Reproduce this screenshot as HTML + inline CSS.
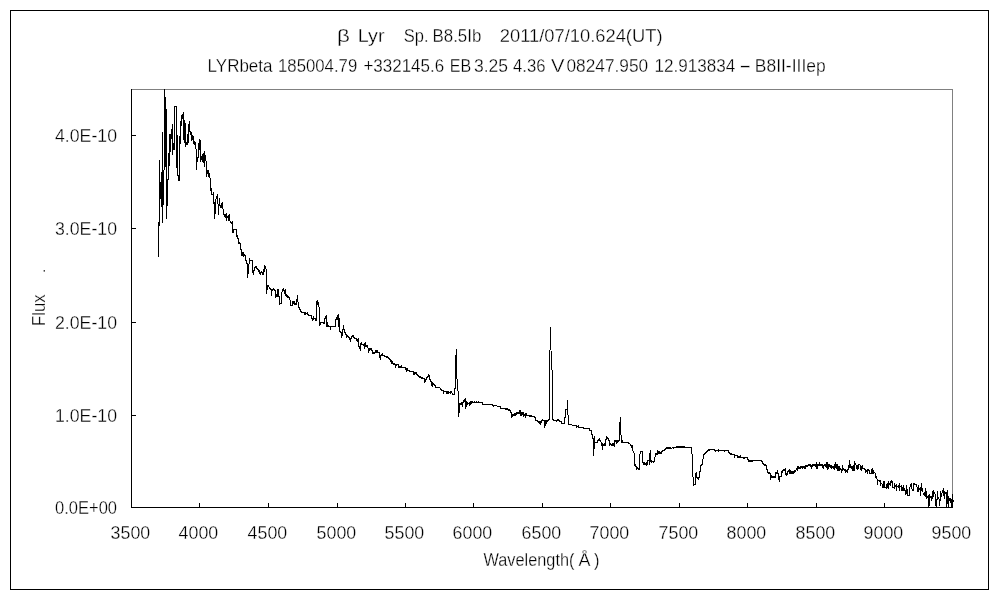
<!DOCTYPE html>
<html lang="en"><head><meta charset="utf-8"><title>β Lyr spectrum</title>
<style>html,body{margin:0;padding:0;background:#fff;}body{width:1000px;height:600px;overflow:hidden;}svg{display:block;will-change:transform;}text{font-family:'Liberation Sans','IPAGothic',sans-serif;font-size:18px;fill:#000;stroke:#fff;stroke-width:0.3px;paint-order:fill stroke;}</style></head><body>
<svg width="1000" height="600" viewBox="0 0 1000 600">
<rect width="1000" height="600" fill="#fff"/>
<rect x="10.5" y="10.5" width="978" height="579" fill="none" stroke="#000" stroke-width="1" shape-rendering="crispEdges"/>
<path d="M131 89.5H953M952.5 89V507" fill="none" stroke="#808080" stroke-width="1" shape-rendering="crispEdges"/>
<path d="M131.5 89V508M131 507.5H953M131.5 503V508M199.5 503V508M268.5 503V508M337.5 503V508M405.5 503V508M473.5 503V508M542.5 503V508M610.5 503V508M679.5 503V508M747.5 503V508M816.5 503V508M884.5 503V508M952.5 503V508M131 135.5H136M131 228.5H136M131 322.5H136M131 415.5H136" fill="none" stroke="#000" stroke-width="1" shape-rendering="crispEdges"/>
<path d="M158.5 222V257M159.5 160V226M160.5 182V199M161.5 172V207M162.5 132V223M163.5 170V205M164.5 89V170M165.5 97V167M166.5 109V219M167.5 179V206M168.5 153V180M169.5 134V166M170.5 134V152M171.5 129V139M172.5 124V155M173.5 143V150M174.5 106V150M175.5 106V107M176.5 106V168M177.5 135V176M178.5 175V181M179.5 136V181M180.5 121V144M181.5 115V126M182.5 114V119M183.5 112V140M184.5 120V143M185.5 123V147M186.5 142V145M187.5 134V145M188.5 124V143M189.5 121V132M190.5 131V135M191.5 132V141M192.5 135V140M193.5 136V144M194.5 141V145M195.5 142V149M196.5 149V170M197.5 157V162M198.5 143V158M199.5 139V150M200.5 140V162M201.5 156V160M202.5 154V162M203.5 153V163M204.5 151V167M205.5 155V161M206.5 161V177M207.5 170V174M208.5 170V177M209.5 173V178M210.5 178V191M211.5 188V195M212.5 194V195M213.5 192V204M214.5 202V219M215.5 199V214M216.5 196V199M217.5 194V204M218.5 204V215M219.5 198V206M220.5 205V208M221.5 203V208M222.5 202V209M223.5 209V215M224.5 214V217M225.5 214V218M226.5 213V221M227.5 216V218M228.5 215V221M229.5 214V221M230.5 221V223M231.5 222V224M232.5 221V233M233.5 229V233M234.5 229V230M235.5 229V230M236.5 229V237M237.5 235V239M238.5 238V244M239.5 242V244M240.5 243V250M241.5 249V256M242.5 252V256M243.5 252V257M244.5 254V256M245.5 255V261M246.5 260V264M247.5 263V278M248.5 264V274M249.5 258V264M250.5 260V261M251.5 260V261M252.5 260V273M253.5 270V275M254.5 267V271M255.5 266V268M256.5 266V269M257.5 268V270M258.5 269V272M259.5 270V274M260.5 272V275M261.5 271V273M262.5 272V275M263.5 269V275M264.5 265V272M265.5 266V269M266.5 269V294M267.5 285V290M268.5 285V287M269.5 287V289M270.5 288V290M271.5 289V296M272.5 289V291M273.5 288V290M274.5 289V291M275.5 290V298M276.5 294V297M277.5 289V297M278.5 289V297M279.5 296V305M280.5 303V304M281.5 292V304M282.5 289V292M283.5 288V291M284.5 290V294M285.5 289V296M286.5 294V297M287.5 295V298M288.5 296V298M289.5 297V300M290.5 300V306M291.5 305V306M292.5 301V306M293.5 301V304M294.5 301V305M295.5 303V305M296.5 299V305M297.5 295V302M298.5 302V308M299.5 307V310M300.5 309V312M301.5 311V313M302.5 312V313M303.5 312V313M304.5 312V315M305.5 312V315M306.5 313V314M307.5 312V315M308.5 314V316M309.5 315V316M310.5 315V316M311.5 315V319M312.5 318V321M313.5 316V320M314.5 318V319M315.5 318V321M316.5 301V321M317.5 300V305M318.5 302V307M319.5 307V326M320.5 322V325M321.5 322V323M322.5 322V323M323.5 322V324M324.5 318V324M325.5 316V319M326.5 315V327M327.5 322V327M328.5 325V327M329.5 326V327M330.5 326V330M331.5 326V327M332.5 326V327M333.5 326V327M334.5 326V327M335.5 319V327M336.5 317V320M337.5 315V320M338.5 314V327M339.5 318V332M340.5 331V333M341.5 332V338M342.5 329V336M343.5 325V330M344.5 329V333M345.5 332V335M346.5 334V338M347.5 335V337M348.5 336V338M349.5 337V340M350.5 338V342M351.5 336V339M352.5 335V337M353.5 335V338M354.5 337V339M355.5 338V339M356.5 338V341M357.5 339V342M358.5 338V347M359.5 346V349M360.5 343V351M361.5 342V345M362.5 344V345M363.5 344V346M364.5 343V349M365.5 342V347M366.5 345V347M367.5 345V348M368.5 348V353M369.5 348V351M370.5 348V350M371.5 348V351M372.5 350V354M373.5 352V354M374.5 352V354M375.5 350V353M376.5 350V353M377.5 350V353M378.5 352V353M379.5 352V358M380.5 355V360M381.5 354V356M382.5 353V356M383.5 355V356M384.5 355V357M385.5 356V357M386.5 356V358M387.5 356V358M388.5 357V359M389.5 358V360M390.5 359V362M391.5 360V364M392.5 361V364M393.5 363V365M394.5 363V365M395.5 364V368M396.5 364V366M397.5 364V365M398.5 364V368M399.5 366V368M400.5 366V368M401.5 365V368M402.5 367V368M403.5 367V368M404.5 367V368M405.5 367V370M406.5 368V372M407.5 368V371M408.5 370V371M409.5 370V372M410.5 371V372M411.5 371V372M412.5 371V372M413.5 371V375M414.5 372V375M415.5 372V374M416.5 372V375M417.5 374V376M418.5 375V377M419.5 376V378M420.5 376V378M421.5 377V379M422.5 377V379M423.5 378V379M424.5 378V383M425.5 379V382M426.5 377V380M427.5 376V378M428.5 374V377M429.5 375V380M430.5 379V382M431.5 381V386M432.5 382V387M433.5 383V385M434.5 384V386M435.5 385V388M436.5 387V388M437.5 387V388M438.5 387V388M439.5 387V388M440.5 388V390M441.5 389V391M442.5 390V391M443.5 390V394M444.5 391V392M445.5 391V392M446.5 391V394M447.5 391V394M448.5 391V394M449.5 392V393M450.5 391V394M451.5 391V393M452.5 393V395M453.5 394V395M454.5 388V395M455.5 355V389M456.5 349V379M457.5 379V391M458.5 391V417M459.5 403V413M460.5 403V405M461.5 402V405M462.5 402V407M463.5 400V403M464.5 399V402M465.5 398V409M466.5 401V407M467.5 402V405M468.5 403V404M469.5 402V406M470.5 401V405M471.5 401V404M472.5 401V403M473.5 402V403M474.5 401V403M475.5 402V403M476.5 401V403M477.5 402V403M478.5 401V403M479.5 402V403M480.5 402V403M481.5 402V403M482.5 402V405M483.5 404V405M484.5 404V405M485.5 404V405M486.5 404V405M487.5 404V405M488.5 404V405M489.5 404V405M490.5 404V405M491.5 404V405M492.5 404V406M493.5 405V407M494.5 405V406M495.5 405V406M496.5 405V406M497.5 406V407M498.5 406V407M499.5 406V407M500.5 406V409M501.5 408V409M502.5 408V409M503.5 408V409M504.5 408V409M505.5 408V410M506.5 408V410M507.5 408V410M508.5 409V411M509.5 409V411M510.5 410V413M511.5 412V418M512.5 414V417M513.5 414V416M514.5 413V416M515.5 413V416M516.5 412V415M517.5 412V414M518.5 412V414M519.5 410V414M520.5 410V416M521.5 412V416M522.5 412V415M523.5 412V417M524.5 414V416M525.5 413V418M526.5 413V416M527.5 415V416M528.5 415V416M529.5 415V417M530.5 415V417M531.5 415V417M532.5 416V417M533.5 416V417M534.5 416V418M535.5 417V421M536.5 420V421M537.5 420V422M538.5 421V423M539.5 421V424M540.5 421V425M541.5 420V423M542.5 419V421M543.5 420V421M544.5 420V428M545.5 420V426M546.5 420V424M547.5 420V422M548.5 419V421M549.5 350V420M550.5 327V350M551.5 351V370M552.5 370V420M553.5 419V421M554.5 420V421M555.5 420V421M556.5 420V422M557.5 419V421M558.5 419V421M559.5 420V422M560.5 421V422M561.5 421V424M562.5 423V424M563.5 423V424M564.5 417V424M565.5 409V418M566.5 409V410M567.5 400V415M568.5 415V425M569.5 424V425M570.5 424V425M571.5 424V425M572.5 425V426M573.5 425V426M574.5 425V426M575.5 425V426M576.5 425V428M577.5 426V427M578.5 425V428M579.5 427V428M580.5 427V428M581.5 427V428M582.5 427V428M583.5 427V429M584.5 428V429M585.5 428V429M586.5 428V429M587.5 428V429M588.5 428V429M589.5 428V431M590.5 430V431M591.5 430V435M592.5 434V439M593.5 438V456M594.5 436V449M595.5 442V443M596.5 442V443M597.5 440V443M598.5 439V441M599.5 438V441M600.5 440V442M601.5 442V446M602.5 443V450M603.5 444V446M604.5 443V446M605.5 439V446M606.5 436V440M607.5 437V439M608.5 438V441M609.5 440V446M610.5 443V445M611.5 444V446M612.5 443V446M613.5 443V446M614.5 440V447M615.5 440V442M616.5 440V444M617.5 440V443M618.5 440V442M619.5 422V441M620.5 417V435M621.5 435V443M622.5 440V443M623.5 442V443M624.5 442V443M625.5 442V443M626.5 442V443M627.5 442V443M628.5 442V444M629.5 443V444M630.5 444V446M631.5 445V448M632.5 445V451M633.5 451V453M634.5 453V466M635.5 464V467M636.5 466V470M637.5 467V469M638.5 468V470M639.5 454V470M640.5 451V454M641.5 451V452M642.5 451V463M643.5 462V465M644.5 462V465M645.5 463V465M646.5 462V466M647.5 460V465M648.5 460V461M649.5 453V465M650.5 450V462M651.5 460V463M652.5 461V462M653.5 461V463M654.5 457V462M655.5 453V457M656.5 453V455M657.5 450V455M658.5 451V454M659.5 451V454M660.5 452V454M661.5 451V454M662.5 450V452M663.5 450V451M664.5 449V451M665.5 448V450M666.5 447V449M667.5 447V449M668.5 447V449M669.5 447V449M670.5 447V449M671.5 448V449M672.5 447V448M673.5 447V449M674.5 447V448M675.5 447V448M676.5 446V448M677.5 446V448M678.5 446V448M679.5 446V448M680.5 446V448M681.5 446V448M682.5 446V448M683.5 446V448M684.5 446V448M685.5 447V448M686.5 447V448M687.5 447V448M688.5 447V448M689.5 447V448M690.5 447V448M691.5 447V454M692.5 454V477M693.5 477V486M694.5 484V485M695.5 473V485M696.5 472V478M697.5 477V479M698.5 477V480M699.5 471V478M700.5 465V472M701.5 464V466M702.5 459V465M703.5 454V459M704.5 453V455M705.5 452V454M706.5 451V453M707.5 450V452M708.5 449V451M709.5 449V451M710.5 449V450M711.5 449V450M712.5 449V450M713.5 449V450M714.5 449V451M715.5 450V452M716.5 450V451M717.5 450V451M718.5 449V452M719.5 450V451M720.5 450V451M721.5 450V451M722.5 450V451M723.5 450V451M724.5 450V452M725.5 450V451M726.5 450V451M727.5 450V451M728.5 450V453M729.5 452V454M730.5 453V455M731.5 453V455M732.5 454V455M733.5 454V455M734.5 454V458M735.5 455V456M736.5 455V456M737.5 455V458M738.5 456V458M739.5 456V458M740.5 455V458M741.5 457V458M742.5 457V458M743.5 457V459M744.5 457V459M745.5 457V458M746.5 457V458M747.5 457V460M748.5 459V462M749.5 460V462M750.5 460V462M751.5 460V462M752.5 460V462M753.5 460V461M754.5 460V461M755.5 460V461M756.5 460V461M757.5 460V461M758.5 460V461M759.5 460V461M760.5 460V461M761.5 460V462M762.5 461V464M763.5 463V465M764.5 464V466M765.5 464V466M766.5 465V470M767.5 469V473M768.5 472V474M769.5 472V474M770.5 473V480M771.5 475V478M772.5 476V478M773.5 476V478M774.5 476V478M775.5 472V478M776.5 472V474M777.5 470V474M778.5 473V480M779.5 476V482M780.5 476V477M781.5 471V477M782.5 470V473M783.5 469V471M784.5 469V471M785.5 468V475M786.5 473V476M787.5 471V475M788.5 470V472M789.5 469V474M790.5 470V474M791.5 471V474M792.5 471V474M793.5 471V474M794.5 470V473M795.5 470V472M796.5 468V470M797.5 466V471M798.5 466V469M799.5 467V469M800.5 466V469M801.5 466V468M802.5 466V469M803.5 466V468M804.5 466V469M805.5 465V469M806.5 465V467M807.5 465V467M808.5 464V466M809.5 464V466M810.5 464V467M811.5 465V469M812.5 464V467M813.5 464V466M814.5 464V466M815.5 464V467M816.5 462V469M817.5 464V469M818.5 464V466M819.5 462V466M820.5 464V466M821.5 464V466M822.5 464V468M823.5 465V469M824.5 464V466M825.5 464V467M826.5 462V468M827.5 462V470M828.5 464V469M829.5 464V467M830.5 465V468M831.5 465V469M832.5 466V468M833.5 466V469M834.5 464V470M835.5 462V468M836.5 464V469M837.5 464V471M838.5 466V471M839.5 466V471M840.5 468V470M841.5 469V473M842.5 465V471M843.5 468V470M844.5 469V471M845.5 469V473M846.5 470V472M847.5 469V473M848.5 465V470M849.5 460V468M850.5 464V468M851.5 466V469M852.5 466V471M853.5 465V471M854.5 461V471M855.5 463V465M856.5 465V469M857.5 465V470M858.5 464V469M859.5 464V465M860.5 465V470M861.5 466V471M862.5 465V469M863.5 468V469M864.5 468V470M865.5 469V473M866.5 470V472M867.5 469V474M868.5 469V471M869.5 470V474M870.5 473V474M871.5 469V474M872.5 468V474M873.5 470V474M874.5 472V473M875.5 473V478M876.5 476V479M877.5 479V485M878.5 480V481M879.5 480V482M880.5 480V486M881.5 483V484M882.5 484V488M883.5 481V488M884.5 481V488M885.5 487V488M886.5 484V489M887.5 483V488M888.5 481V489M889.5 483V485M890.5 481V486M891.5 480V483M892.5 481V488M893.5 487V488M894.5 483V489M895.5 485V487M896.5 484V491M897.5 486V487M898.5 485V488M899.5 483V491M900.5 486V487M901.5 485V491M902.5 487V491M903.5 485V491M904.5 488V491M905.5 490V495M906.5 485V494M907.5 489V496M908.5 495V496M909.5 487V496M910.5 484V487M911.5 483V489M912.5 489V491M913.5 483V491M914.5 483V485M915.5 484V485M916.5 484V487M917.5 487V492M918.5 485V492M919.5 488V490M920.5 487V496M921.5 483V491M922.5 488V492M923.5 493V495M924.5 492V496M925.5 488V497M926.5 491V499M927.5 496V498M928.5 495V508M929.5 494V506M930.5 496V498M931.5 496V501M932.5 491V499M933.5 490V497M934.5 492V494M935.5 494V506M936.5 499V508M937.5 491V500M938.5 497V499M939.5 499V506M940.5 491V501M941.5 493V497M942.5 490V493M943.5 488V496M944.5 491V499M945.5 492V494M946.5 492V508M947.5 490V504M948.5 496V508M949.5 498V501M950.5 498V503M951.5 499V508M952.5 494V508M953.5 500V502" fill="none" stroke="#000" stroke-width="1" shape-rendering="crispEdges"/>
<text x="337" y="42" textLength="12.9" lengthAdjust="spacingAndGlyphs">β</text>
<text x="357.8" y="42" textLength="26.7" lengthAdjust="spacingAndGlyphs">Lyr</text>
<text x="403.7" y="42" textLength="24.8" lengthAdjust="spacingAndGlyphs">Sp.</text>
<text x="432.5" y="42" textLength="48.8" lengthAdjust="spacingAndGlyphs">B8.5Ib</text>
<text x="499.8" y="42" textLength="162.7" lengthAdjust="spacingAndGlyphs">2011/07/10.624(UT)</text>
<text x="207.6" y="72" textLength="64.9" lengthAdjust="spacingAndGlyphs">LYRbeta</text>
<text x="278" y="72" textLength="79.2" lengthAdjust="spacingAndGlyphs">185004.79</text>
<text x="363.4" y="72" textLength="80.8" lengthAdjust="spacingAndGlyphs">+332145.6</text>
<text x="449.8" y="72" textLength="21.4" lengthAdjust="spacingAndGlyphs">EB</text>
<text x="474" y="72" textLength="34.1" lengthAdjust="spacingAndGlyphs">3.25</text>
<text x="513" y="72" textLength="32.5" lengthAdjust="spacingAndGlyphs">4.36</text>
<text x="551" y="72" textLength="13.5" lengthAdjust="spacingAndGlyphs">V</text>
<text x="566.5" y="72" textLength="81.7" lengthAdjust="spacingAndGlyphs">08247.950</text>
<text x="654.4" y="72" textLength="80.8" lengthAdjust="spacingAndGlyphs">12.913834</text>
<text x="739" y="72" textLength="12.5" lengthAdjust="spacingAndGlyphs">-</text>
<text x="754.8" y="72" textLength="70.9" lengthAdjust="spacingAndGlyphs">B8II-IIIep</text>
<text x="55" y="142" textLength="62" lengthAdjust="spacingAndGlyphs">4.0E-10</text>
<text x="55" y="235" textLength="62" lengthAdjust="spacingAndGlyphs">3.0E-10</text>
<text x="55" y="329" textLength="62" lengthAdjust="spacingAndGlyphs">2.0E-10</text>
<text x="55" y="422" textLength="62" lengthAdjust="spacingAndGlyphs">1.0E-10</text>
<text x="55" y="514" textLength="62" lengthAdjust="spacingAndGlyphs">0.0E+00</text>
<text x="110.6" y="539" textLength="39.6" lengthAdjust="spacingAndGlyphs">3500</text>
<text x="178.6" y="539" textLength="39.6" lengthAdjust="spacingAndGlyphs">4000</text>
<text x="247.6" y="539" textLength="39.6" lengthAdjust="spacingAndGlyphs">4500</text>
<text x="316.6" y="539" textLength="39.6" lengthAdjust="spacingAndGlyphs">5000</text>
<text x="384.6" y="539" textLength="39.6" lengthAdjust="spacingAndGlyphs">5500</text>
<text x="452.6" y="539" textLength="39.6" lengthAdjust="spacingAndGlyphs">6000</text>
<text x="521.6" y="539" textLength="39.6" lengthAdjust="spacingAndGlyphs">6500</text>
<text x="589.6" y="539" textLength="39.6" lengthAdjust="spacingAndGlyphs">7000</text>
<text x="658.6" y="539" textLength="39.6" lengthAdjust="spacingAndGlyphs">7500</text>
<text x="726.6" y="539" textLength="39.6" lengthAdjust="spacingAndGlyphs">8000</text>
<text x="795.6" y="539" textLength="39.6" lengthAdjust="spacingAndGlyphs">8500</text>
<text x="863.6" y="539" textLength="39.6" lengthAdjust="spacingAndGlyphs">9000</text>
<text x="931.6" y="539" textLength="39.6" lengthAdjust="spacingAndGlyphs">9500</text>
<text y="565.5"><tspan x="483.5" textLength="91" lengthAdjust="spacingAndGlyphs">Wavelength(</tspan><tspan x="578.5" textLength="12" lengthAdjust="spacingAndGlyphs">Å</tspan><tspan x="594" textLength="5.5" lengthAdjust="spacingAndGlyphs">)</tspan></text>
<g transform="translate(45,326) rotate(-90)"><text x="0" y="0" textLength="31.5" lengthAdjust="spacingAndGlyphs">Flux</text><text x="53.5" y="0" style="font-size:12px;stroke:none">.</text></g>
</svg></body></html>
